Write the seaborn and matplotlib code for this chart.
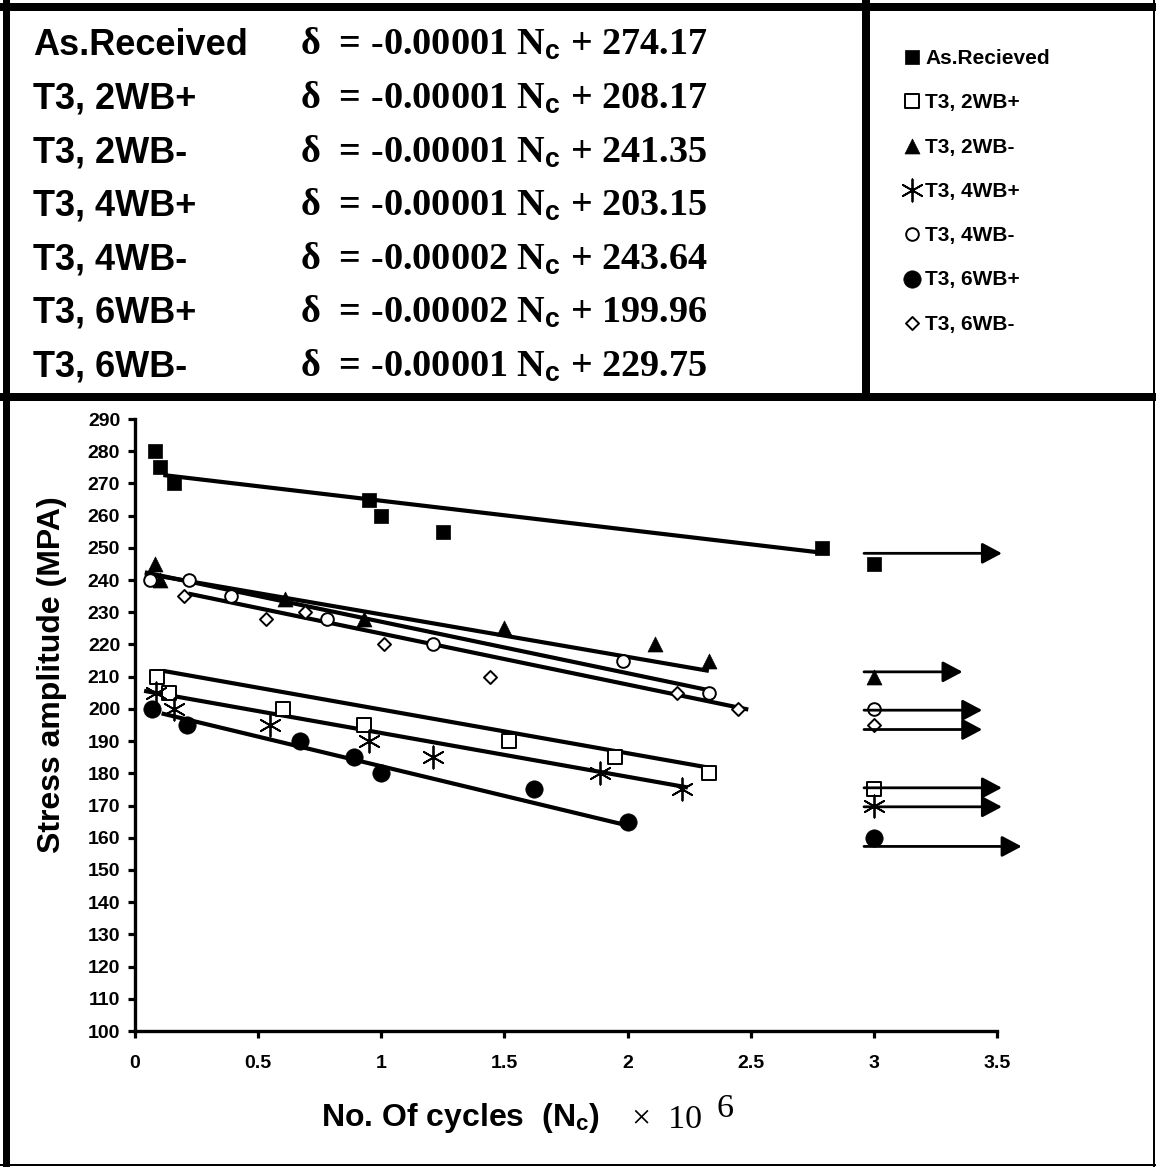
import numpy as np
import matplotlib.pyplot as plt
import seaborn as sns

# S-N data: x = cycles (x 10^6), y = stress amplitude (MPa)
series = ["As.Recieved", "T3, 2WB+", "T3, 2WB-", "T3, 4WB+", "T3, 4WB-", "T3, 6WB+", "T3, 6WB-"]

as_rec_x = [0.08, 0.10, 0.16, 0.95, 1.00, 1.25, 2.79]
as_rec_y = [280, 275, 270, 265, 260, 255, 250]
wb2p_x = [0.09, 0.14, 0.60, 0.93, 1.52, 1.95, 2.33]
wb2p_y = [210, 205, 200, 195, 190, 185, 180]
wb2m_x = [0.08, 0.10, 0.61, 0.93, 1.50, 2.11, 2.33]
wb2m_y = [245, 240, 234, 228, 225, 220, 215]
wb4p_x = [0.085, 0.16, 0.55, 0.95, 1.21, 1.89, 2.22]
wb4p_y = [205, 200, 195, 190, 185, 180, 175]
wb4m_x = [0.06, 0.22, 0.39, 0.78, 1.21, 1.98, 2.33]
wb4m_y = [240, 240, 235, 228, 220, 215, 205]
wb6p_x = [0.07, 0.21, 0.67, 0.89, 1.00, 1.62, 2.00]
wb6p_y = [200, 195, 190, 185, 180, 175, 165]
wb6m_x = [0.20, 0.53, 0.69, 1.01, 1.44, 2.20, 2.45]
wb6m_y = [235, 228, 230, 220, 210, 205, 200]

# run-out specimens (no failure) and their arrows
runout_x = [3.0, 3.0, 3.0, 3.0, 3.0, 3.0, 3.0]
runout_y = [245, 175, 210, 170, 200, 160, 195]
arrow_x0 = [2.96, 2.96, 2.96, 2.96, 2.96, 2.96, 2.96]
arrow_x1 = [3.52, 3.52, 3.36, 3.52, 3.44, 3.60, 3.44]
arrow_y = [248.3, 175.5, 211.5, 169.6, 199.6, 157.3, 193.6]

# trend lines as drawn on the chart
trend_x0 = [0.115, 0.115, 0.04, 0.037, 0.04, 0.108, 0.216]
trend_y0 = [272.6, 211.8, 242.0, 205.6, 242.4, 198.6, 235.8]
trend_x1 = [2.81, 2.327, 2.33, 2.245, 2.33, 1.995, 2.49]
trend_y1 = [248.3, 181.8, 211.8, 175.6, 205.8, 163.9, 199.8]

# equation table
table_labels = ["As.Received", "T3, 2WB+", "T3, 2WB-", "T3, 4WB+", "T3, 4WB-", "T3, 6WB+", "T3, 6WB-"]
eq_slope = ["-0.00001", "-0.00001", "-0.00001", "-0.00001", "-0.00002", "-0.00002", "-0.00001"]
eq_intercept = ["274.17", "208.17", "241.35", "203.15", "243.64", "199.96", "229.75"]

x_ticks = [0, 0.5, 1, 1.5, 2, 2.5, 3, 3.5]
x_ticklabels = ["0", "0.5", "1", "1.5", "2", "2.5", "3", "3.5"]
y_ticks = list(range(100, 291, 10))

xs = [as_rec_x, wb2p_x, wb2m_x, wb4p_x, wb4m_x, wb6p_x, wb6m_x]
ys = [as_rec_y, wb2p_y, wb2m_y, wb4p_y, wb4m_y, wb6p_y, wb6m_y]

markers = ["s", "s", "^", (6, 2, 0), "o", "o", "D"]
kind = ["filled", "open", "filled", "star", "open", "filled", "open"]
sizes = [101, 97, 116, 256, 83, 156, 44]

sns.set_style("ticks")
plt.rcParams["font.family"] = ["Liberation Sans", "DejaVu Sans"]
plt.rcParams["font.weight"] = "bold"
for key in ["text.color", "axes.labelcolor", "xtick.color", "ytick.color", "axes.edgecolor"]:
    plt.rcParams[key] = "black"
plt.rcParams["mathtext.fontset"] = "custom"
plt.rcParams["mathtext.rm"] = "Liberation Serif:bold"
plt.rcParams["mathtext.it"] = "Liberation Serif:bold"
plt.rcParams["mathtext.bf"] = "Liberation Serif:bold"
plt.rcParams["mathtext.sf"] = "Liberation Sans:bold"

W, H = 1156, 1167
fig = plt.figure(figsize=(W / 100, H / 100), dpi=100)
ax = fig.add_axes([135 / W, 136 / H, 862 / W, 612 / H])


def style_kws(k, s):
    if k == "filled":
        return dict(color="black", edgecolor="black", linewidth=0.5, s=s)
    if k == "open":
        return dict(color="white", edgecolor="black", linewidth=1.4, s=s)
    return dict(color="black", linewidth=1.3, s=s)


for i in range(len(series)):
    ax.plot([trend_x0[i], trend_x1[i]], [trend_y0[i], trend_y1[i]],
            color="black", lw=3.0, zorder=2, solid_capstyle="butt")
    sns.scatterplot(x=xs[i], y=ys[i], marker=markers[i], ax=ax, legend=False,
                    zorder=3, **style_kws(kind[i], sizes[i]))
    sns.scatterplot(x=[runout_x[i]], y=[runout_y[i]], marker=markers[i], ax=ax,
                    legend=False, zorder=3, clip_on=False, **style_kws(kind[i], sizes[i]))
    ax.annotate("", xy=(arrow_x1[i], arrow_y[i]), xytext=(arrow_x0[i], arrow_y[i]),
                annotation_clip=False,
                arrowprops=dict(arrowstyle="-|>,head_length=0.6,head_width=0.32",
                                mutation_scale=20, lw=2, color="black",
                                shrinkA=0, shrinkB=0))

ax.set_xlim(0, 3.5)
ax.set_ylim(100, 290)
ax.set_xticks(x_ticks)
ax.set_xticklabels(x_ticklabels)
ax.set_yticks(y_ticks)
sns.despine(ax=ax)
for side in ["left", "bottom"]:
    ax.spines[side].set_linewidth(2.4)
    ax.spines[side].set_color("black")
ax.tick_params(axis="y", direction="out", width=2.3, length=4.7, labelsize=14, pad=6, colors="black")
ax.tick_params(axis="x", direction="out", width=2.3, length=5, labelsize=14, pad=12, colors="black")
for t in ax.get_xticklabels() + ax.get_yticklabels():
    t.set_fontweight("bold")

ax.set_ylabel("Stress amplitude (MPA)", fontsize=23, fontweight="bold", va="center")
ax.yaxis.set_label_coords(-0.096, 0.5825)
ax.set_xlabel(r"No. Of cycles  ($\mathsf{N}_{\mathsf{c}}$)", fontsize=23, fontweight="bold", va="center")
ax.xaxis.set_label_coords(0.377, -0.142)

# overlay in pixel coordinates for the frame, table and legend
ov = fig.add_axes([0, 0, 1, 1], zorder=5)
ov.set_xlim(0, W)
ov.set_ylim(H, 0)
ov.axis("off")

ov.text(632, 1128, "\u00d7  10", fontsize=24.5, family="Liberation Serif",
        fontweight="normal", ha="left", va="baseline")
ov.text(716, 1117, "6", fontsize=24.5, family="Liberation Serif",
        fontweight="normal", ha="left", va="baseline")

for i in range(len(table_labels)):
    yb = 55 + 53.6 * i
    ov.text(33, yb, table_labels[i], fontsize=26, fontweight="bold", ha="left", va="baseline")
    ov.text(300, yb, "\u03b4  = %s N$_{\\mathsf{c}}$ + %s" % (eq_slope[i], eq_intercept[i]),
            fontsize=27.5, family="Liberation Serif", fontweight="bold",
            ha="left", va="baseline")

for i in range(len(series)):
    yc = 57 + 44.3 * i
    kw = style_kws(kind[i], sizes[i])
    ov.scatter([912], [yc], marker=markers[i], zorder=6, **kw)
    ov.text(925, yc + 7, series[i], fontsize=15, fontweight="bold", ha="left", va="baseline")

frame = [((0, W), (7, 7), 8), ((6, 6), (0, H), 7), ((0, W), (397, 397), 8),
         ((866, 866), (0, 397), 8), ((1154, 1154), (0, H), 2), ((0, W), (1165, 1165), 2)]
for fx, fy, lw in frame:
    ov.plot(fx, fy, color="black", lw=lw * 0.72, zorder=10, solid_capstyle="projecting")

fig.savefig("out.png", dpi=100)
